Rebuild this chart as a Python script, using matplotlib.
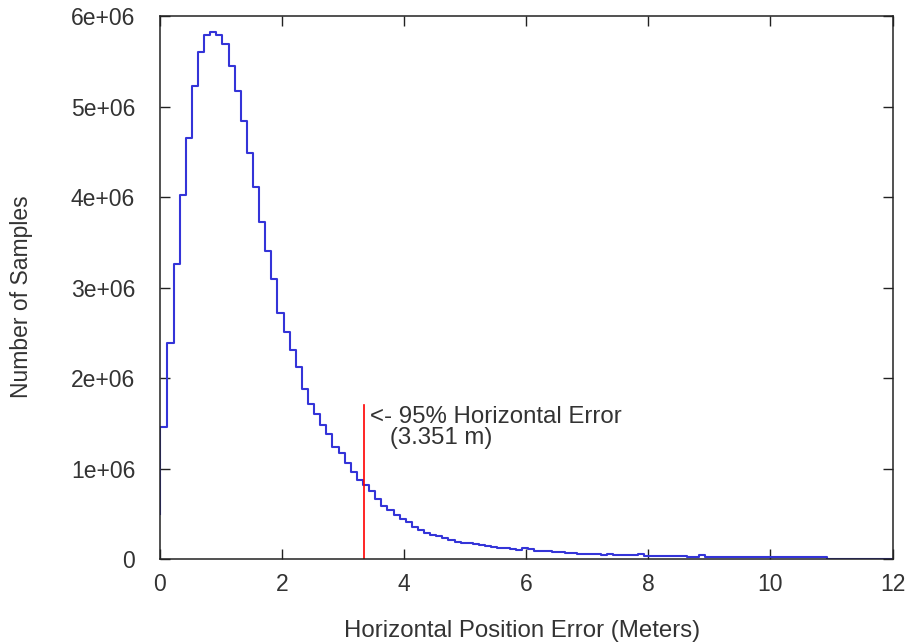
"""
    Histogram of horizontal position error
"""

import numpy as np
import matplotlib
matplotlib.use('Agg')
import matplotlib.pyplot as plt

plt.rcParams['font.family'] = ['Liberation Sans', 'DejaVu Sans']

# bin edges: first bin 0..0.13, then every 0.1 m up to the 12 m axis edge
edges = np.concatenate(([0.0], np.round(np.arange(0.13, 11.94, 0.1), 2), [12.0]))
start_count = 0.50e6

# samples per bin, in millions
counts_m = [
    1.46, 2.39, 3.26, 4.03, 4.66, 5.23, 5.60, 5.79, 5.83, 5.79,
    5.69, 5.45, 5.18, 4.84, 4.49, 4.11, 3.73, 3.41, 3.10, 2.72,
    2.51, 2.31, 2.12, 1.88, 1.72, 1.61, 1.48, 1.39, 1.24, 1.18,
    1.06, 0.97, 0.88, 0.82, 0.75, 0.67, 0.59, 0.54, 0.49, 0.45,
    0.41, 0.36, 0.32, 0.29, 0.27, 0.26, 0.24, 0.21, 0.19, 0.185,
    0.175, 0.165, 0.155, 0.145, 0.14, 0.13, 0.125, 0.11, 0.105, 0.125,
    0.11, 0.095, 0.095, 0.09, 0.08, 0.077, 0.075, 0.075, 0.06, 0.06,
    0.058, 0.058, 0.045, 0.06, 0.045, 0.045, 0.043, 0.043, 0.058, 0.042,
    0.042, 0.04, 0.04, 0.04, 0.038, 0.038, 0.025, 0.025, 0.045, 0.03,
    0.03, 0.03, 0.029, 0.029, 0.029, 0.028, 0.028, 0.028, 0.028, 0.027,
    0.027, 0.027, 0.027, 0.026, 0.026, 0.026, 0.026, 0.025, 0.025, 0.005,
    0.005, 0.005, 0.005, 0.005, 0.005, 0.005, 0.005, 0.005, 0.005, 0.005,
]

err95 = 3.351
err95_top = 1.70e6
xticks = [0, 2, 4, 6, 8, 10, 12]
yticks = [0, 1e6, 2e6, 3e6, 4e6, 5e6, 6e6]
ytick_labels = ['0', '1e+06', '2e+06', '3e+06', '4e+06', '5e+06', '6e+06']

text_color = '#333333'
fs = 16.5

fig = plt.figure(figsize=(9.09, 6.44), dpi=100)
ax = fig.add_axes([0.1755, 0.1315, 0.8065, 0.8432])

y = np.concatenate(([start_count], np.array(counts_m) * 1e6))
ax.step(edges, y, where='pre', color='#3434d8', lw=1.5)
ax.plot([err95, err95], [0, err95_top], color='#ff0000', lw=1.2)
ax.text(3.445, 1.69e6, '<- 95% Horizontal Error\n   (3.351 m)',
        fontsize=17.3, color=text_color, ha='left', va='top', linespacing=0.92)

ax.set_xlim(0, 12)
ax.set_ylim(0, 6e6)
ax.set_xticks(xticks)
ax.set_xticklabels([str(t) for t in xticks])
ax.set_yticks(yticks)
ax.set_yticklabels(ytick_labels)
ax.tick_params(direction='in', length=7, width=1.0, top=True, right=True,
               labelsize=fs, labelcolor=text_color, color='#222222')
ax.tick_params(axis='y', pad=17.5)
ax.tick_params(axis='x', pad=10)
for s in ax.spines.values():
    s.set_linewidth(1.1)
    s.set_color('#222222')

fig.text(0.574, 0.020, 'Horizontal Position Error (Meters)', ha='center', va='center',
         fontsize=17.3, color=text_color)
fig.text(0.024, 0.540, 'Number of Samples', ha='center', va='center', rotation=90,
         fontsize=fs, color=text_color)

plt.savefig('out.png', dpi=100)
